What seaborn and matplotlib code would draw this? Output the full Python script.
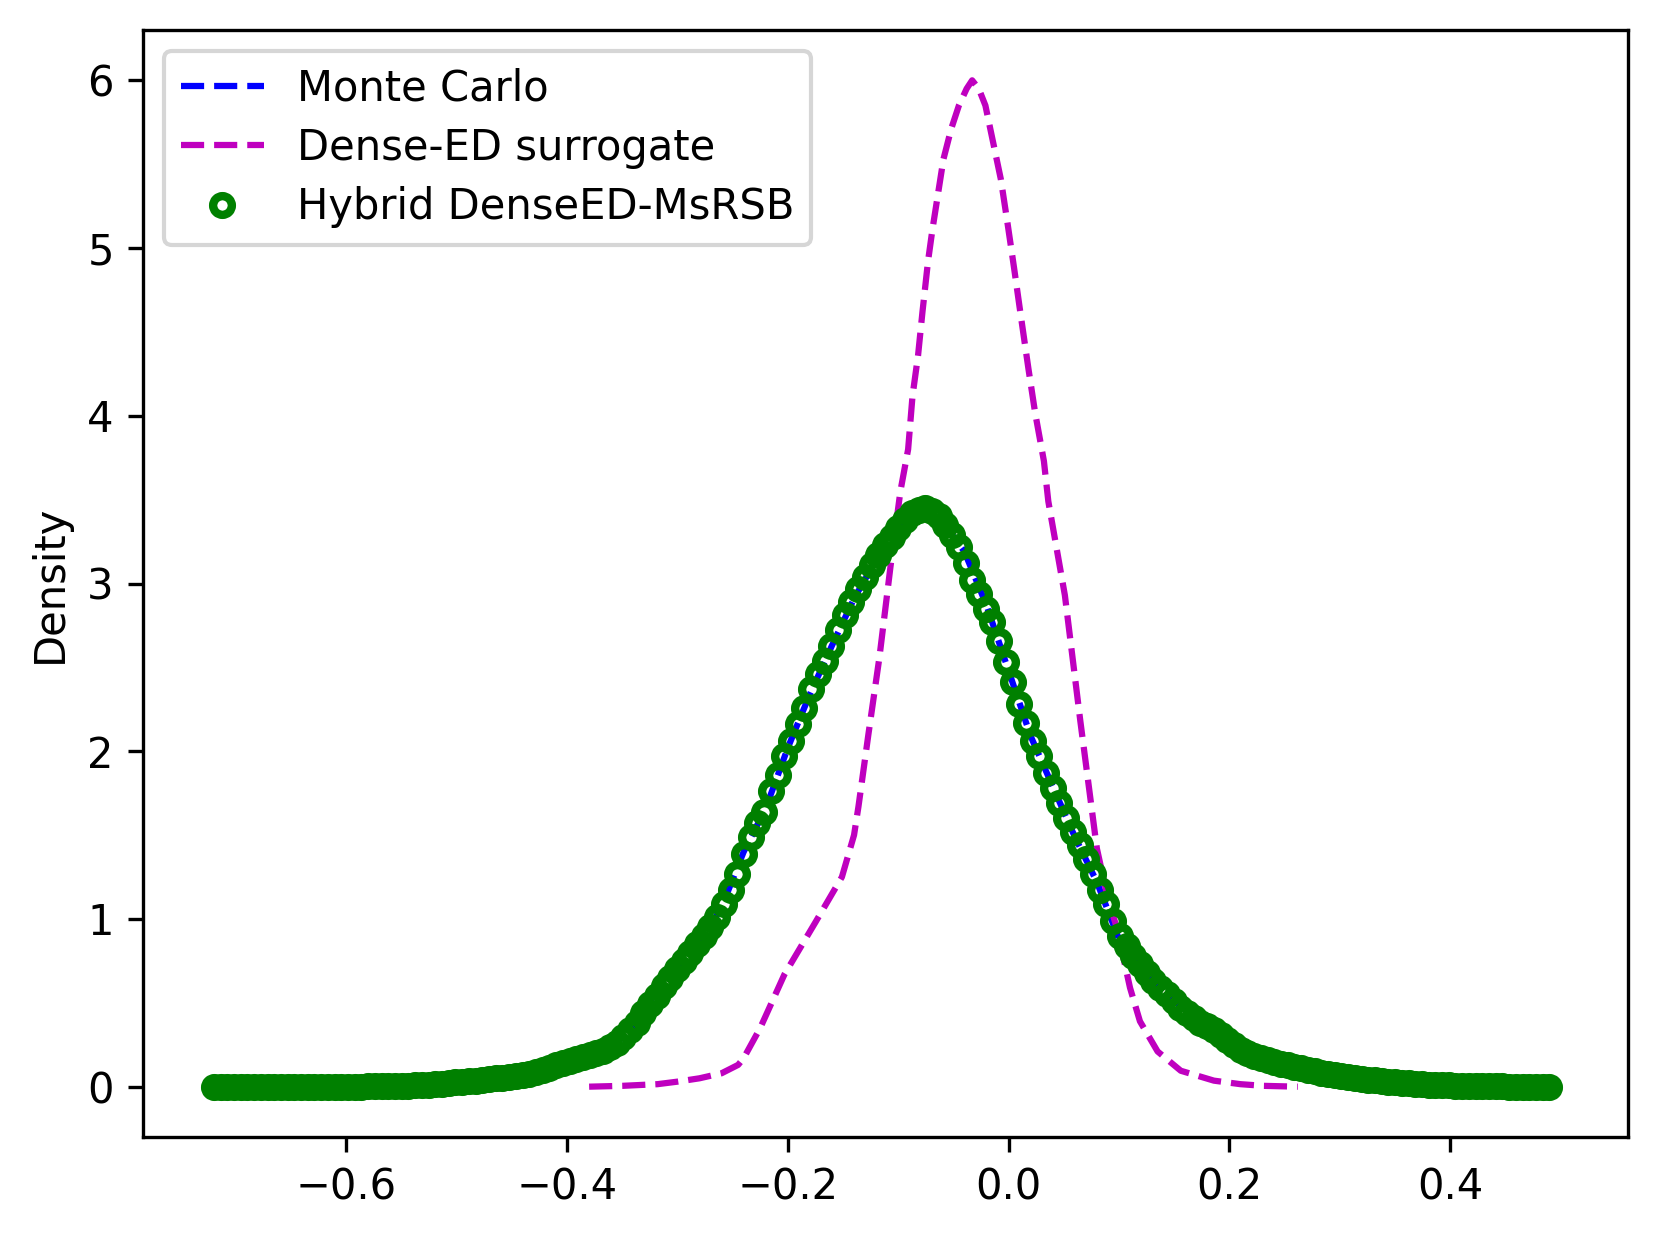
import numpy as np
import matplotlib
matplotlib.use("Agg")
import matplotlib.pyplot as plt
import seaborn as sns

# ---------------- data ----------------
# Hybrid DenseED-MsRSB: density evaluated on an evenly spaced grid of 200 points
hybrid_x_start, hybrid_x_stop, hybrid_n = -0.720, 0.490, 200
hybrid_y = [
    0.000, 0.000, 0.000, 0.000, 0.000, 0.000, 0.000, 0.000, 0.000, 0.000,
    0.000, 0.000, 0.000, 0.000, 0.000, 0.000, 0.000, 0.000, 0.000, 0.000,
    0.001, 0.001, 0.001, 0.002, 0.002, 0.003, 0.003, 0.004, 0.005, 0.007,
    0.008, 0.010, 0.012, 0.014, 0.017, 0.020, 0.025, 0.028, 0.032, 0.036,
    0.040, 0.045, 0.050, 0.054, 0.058, 0.063, 0.068, 0.076, 0.086, 0.098,
    0.112, 0.127, 0.142, 0.155, 0.168, 0.179, 0.190, 0.201, 0.215, 0.235,
    0.262, 0.296, 0.336, 0.380, 0.440, 0.490, 0.540, 0.600, 0.650, 0.700,
    0.750, 0.800, 0.850, 0.900, 0.950, 1.010, 1.090, 1.170, 1.270, 1.390,
    1.490, 1.570, 1.640, 1.760, 1.860, 1.970, 2.060, 2.160, 2.260, 2.370,
    2.460, 2.540, 2.630, 2.720, 2.810, 2.890, 2.970, 3.040, 3.110, 3.170,
    3.230, 3.280, 3.330, 3.380, 3.420, 3.440, 3.450, 3.430, 3.400, 3.350,
    3.290, 3.220, 3.120, 3.020, 2.940, 2.850, 2.770, 2.660, 2.530, 2.410,
    2.280, 2.170, 2.060, 1.970, 1.870, 1.780, 1.690, 1.600, 1.520, 1.440,
    1.360, 1.270, 1.170, 1.090, 0.990, 0.900, 0.840, 0.780, 0.730, 0.680,
    0.630, 0.590, 0.550, 0.510, 0.470, 0.440, 0.410, 0.380, 0.360, 0.340,
    0.310, 0.280, 0.250, 0.220, 0.200, 0.185, 0.170, 0.158, 0.147, 0.137,
    0.127, 0.118, 0.109, 0.100, 0.092, 0.084, 0.077, 0.070, 0.064, 0.058,
    0.052, 0.047, 0.042, 0.037, 0.033, 0.029, 0.025, 0.022, 0.019, 0.016,
    0.014, 0.012, 0.010, 0.009, 0.008, 0.007, 0.006, 0.005, 0.004, 0.003,
    0.003, 0.002, 0.002, 0.001, 0.001, 0.001, 0.000, 0.000, 0.000, 0.000,
]

# Monte Carlo reference density
mc_x = [-0.723, -0.65, -0.60, -0.55, -0.50, -0.47, -0.44, -0.42, -0.40, -0.38,
        -0.36, -0.34, -0.32, -0.30, -0.28, -0.26, -0.24, -0.22, -0.20, -0.18,
        -0.16, -0.14, -0.12, -0.10, -0.08, -0.07, -0.06, -0.04, -0.02, 0.00,
        0.02, 0.04, 0.06, 0.08, 0.10, 0.12, 0.14, 0.16, 0.18, 0.20,
        0.22, 0.25, 0.28, 0.32, 0.36, 0.40, 0.45, 0.500]
mc_y = [0.000, 0.000, 0.001, 0.004, 0.025, 0.045, 0.068, 0.098, 0.148, 0.190,
        0.235, 0.350, 0.560, 0.700, 0.850, 1.070, 1.400, 1.660, 2.020, 2.340,
        2.630, 2.910, 3.140, 3.320, 3.440, 3.440, 3.370, 3.190, 2.870, 2.480,
        2.090, 1.790, 1.490, 1.220, 0.880, 0.720, 0.570, 0.460, 0.360, 0.270,
        0.190, 0.130, 0.088, 0.044, 0.018, 0.008, 0.002, 0.000]

# Dense-ED surrogate density
ded_x = [-0.380, -0.350, -0.318, -0.300, -0.280, -0.260, -0.245, -0.240, -0.225, -0.203,
         -0.175, -0.151, -0.140, -0.136, -0.127, -0.117, -0.107, -0.098, -0.091, -0.087,
         -0.082, -0.078, -0.073, -0.069, -0.064, -0.059, -0.052, -0.045, -0.038, -0.033,
         -0.027, -0.021, -0.014, -0.007, -0.001, 0.005, 0.011, 0.018, 0.024, 0.032,
         0.036, 0.051, 0.065, 0.080, 0.090, 0.097, 0.104, 0.110, 0.119, 0.135,
         0.156, 0.186, 0.210, 0.231, 0.262]
ded_y = [0.000, 0.005, 0.015, 0.030, 0.050, 0.080, 0.130, 0.170, 0.350, 0.670,
         0.980, 1.250, 1.500, 1.670, 2.100, 2.560, 3.100, 3.550, 3.800, 4.120,
         4.360, 4.620, 4.920, 5.110, 5.320, 5.530, 5.710, 5.850, 5.950, 6.000,
         5.950, 5.850, 5.630, 5.410, 5.150, 4.880, 4.600, 4.280, 4.020, 3.730,
         3.490, 2.930, 2.180, 1.420, 1.120, 0.970, 0.770, 0.590, 0.390, 0.210,
         0.095, 0.036, 0.015, 0.005, 0.000]

labels = ["Monte Carlo", "Dense-ED surrogate", "Hybrid DenseED-MsRSB"]
x_ticks = [-0.6, -0.4, -0.2, 0.0, 0.2, 0.4]
y_ticks = [0, 1, 2, 3, 4, 5, 6]

# ---------------- plot ----------------
plt.rcParams['font.family'] = ['DejaVu Sans']
W, H, DPI = 1660, 1237, 300
fig = plt.figure(figsize=(W / DPI, H / DPI), dpi=DPI)
ax = fig.add_axes([143 / W, (H - 1137) / H, 1485 / W, 1107 / H])

hybrid_x = np.linspace(hybrid_x_start, hybrid_x_stop, hybrid_n)

sns.lineplot(x=mc_x, y=mc_y, ax=ax, color='b', linestyle='--', linewidth=1.5,
             label=labels[0], sort=False, estimator=None)
sns.lineplot(x=ded_x, y=ded_y, ax=ax, color='m', linestyle='--', linewidth=1.5,
             label=labels[1], sort=False, estimator=None)
sns.lineplot(x=hybrid_x, y=hybrid_y, ax=ax, color='g', linestyle='none',
             marker='o', markersize=4.5, markerfacecolor='none',
             markeredgecolor='g', markeredgewidth=2,
             label=labels[2], sort=False, estimator=None)

ax.set_xticks(x_ticks)
ax.set_yticks(y_ticks)
ax.set_xticklabels(["\u22120.6", "\u22120.4", "\u22120.2", "0.0", "0.2", "0.4"])
ax.set_xlabel("")
ax.set_ylabel("Density")
ax.margins(x=0.05, y=0.05)
ax.legend(loc='upper left', fontsize=10, labelspacing=0.42)

fig.savefig("out.png", dpi=DPI)
